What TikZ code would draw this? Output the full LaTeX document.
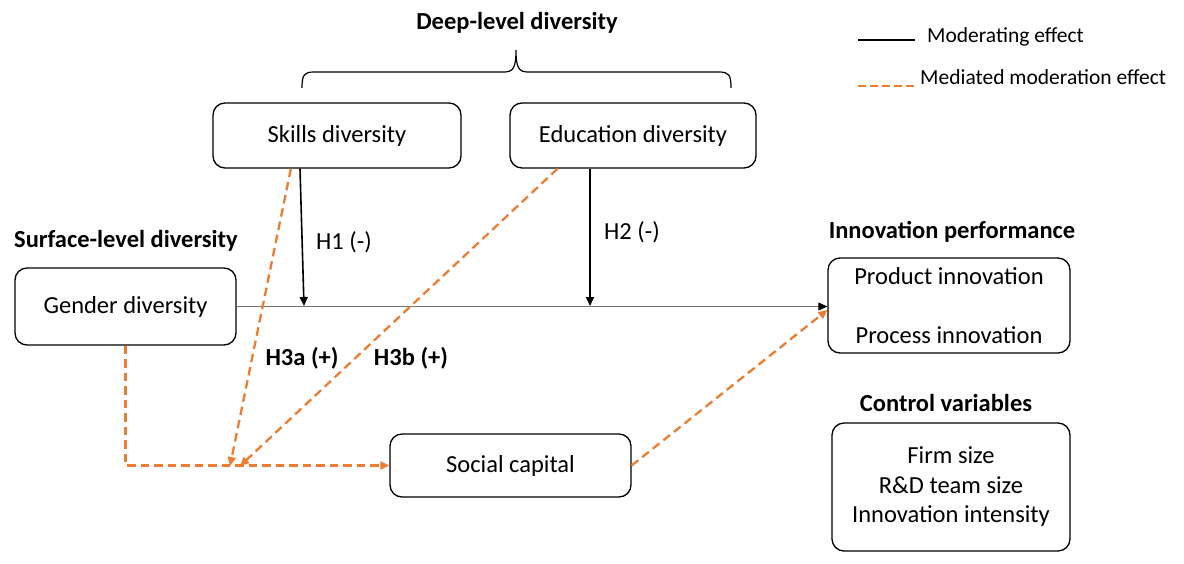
\documentclass[tikz,border=0pt]{standalone}
\usepackage{fontspec}
\setmainfont{Carlito}
\usetikzlibrary{arrows.meta,calc}
\definecolor{orng}{RGB}{237,125,49}
\begin{document}
\begin{tikzpicture}[x=1pt,y=-1pt,
  box/.style={draw, rounded corners=12pt, line width=1.3pt, inner sep=0pt, font=\fontsize{24.5}{29.5}\selectfont, align=center},
  lbl/.style={font=\fontsize{24.5}{29.5}\selectfont\bfseries, inner sep=0pt},
  hlbl/.style={font=\fontsize{24.5}{29.5}\selectfont, inner sep=0pt},
  legtxt/.style={font=\fontsize{21.5}{25}\selectfont, inner sep=0pt, anchor=west},
  modarrow/.style={line width=1.6pt, -{Triangle[length=9pt,width=8pt]}},
  mainline/.style={line width=1.1pt, draw=black!55, -{Triangle[length=9pt,width=8pt,color=black]}},
  medarrow/.style={draw=orng, line width=2.3pt, dash pattern=on 8.5pt off 5pt, -{Triangle[length=9pt,width=8pt]}}
]
\useasboundingbox (0,0) rectangle (1184,563);

% title and brace
\node[lbl] (deep) at (517,23) {Deep-level diversity};
\draw[line width=1.2pt] (302,88) .. controls (302,75) and (304,72) .. (314,72) -- (504,72)
  .. controls (513,72) and (516,68) .. (516,50)
  .. controls (516,68) and (519,72) .. (528,72) -- (719,72)
  .. controls (729,72) and (731,75) .. (731,88);

% boxes
\node[box, minimum width=248pt, minimum height=65pt] (skills) at (337,135.5) {Skills diversity};
\node[box, minimum width=246pt, minimum height=65pt] (edu) at (633,135.5) {Education diversity};
\node[lbl, anchor=west] (surf) at (14,241) {Surface-level diversity};
\node[box, minimum width=221pt, minimum height=77pt] (gender) at (125.5,306.5) {Gender diversity};
\node[lbl] (perf) at (952,232) {Innovation performance};
\node[box, minimum width=242pt, minimum height=95pt] (innov) at (949,305.5) {Product innovation\\[30pt]Process innovation};
\node[lbl] (ctrl) at (946,403) {Control variables};
\node[box, minimum width=238pt, minimum height=128pt] (control) at (951,487) {Firm size\\R\&D team size\\Innovation intensity};
\node[box, minimum width=241pt, minimum height=63pt] (social) at (510.5,465.5) {Social capital};

% labels
\node[hlbl] (h1) at (344,242) {H1 (-)};
\node[hlbl] (h2) at (632,232) {H2 (-)};
\node[lbl] (h3a) at (302,358) {H3a (+)};
\node[lbl] (h3b) at (411,358) {H3b (+)};

% main effect line
\draw[mainline] (gender.east) -- (innov.west |- gender.east);

% moderating arrows
\coordinate (m1) at (304,306);
\coordinate (m2) at (590,306);
\draw[modarrow] ($(skills.south)+(-37,0)$) -- (m1);
\draw[modarrow] (edu.south -| m2) -- (m2);

% mediated moderation
\coordinate (j1) at (230,466);
\coordinate (j2) at (240,466);
\draw[medarrow] ($(skills.south west)!0.315!(skills.south east)$) -- (j1);
\draw[medarrow] ($(edu.south west)!0.195!(edu.south east)$) -- (j2);
\draw[medarrow] (gender.south) -- (gender.south |- social.west) -- (social.west);
\draw[medarrow] (social.east) -- ($(innov.west)+(0,4.5)$);

% legend
\coordinate (l1a) at (858,40);
\coordinate (l1b) at (915,40);
\coordinate (l2a) at (858,86);
\coordinate (l2b) at (915,86);
\draw[line width=2.5pt] (l1a) -- (l1b);
\node[legtxt] (leg1) at (927,37) {Moderating effect};
\draw[orng, line width=2.8pt, dash pattern=on 8pt off 4pt] (l2a) -- (l2b);
\node[legtxt] (leg2) at (920,77) {Mediated moderation effect};
\end{tikzpicture}
\end{document}
